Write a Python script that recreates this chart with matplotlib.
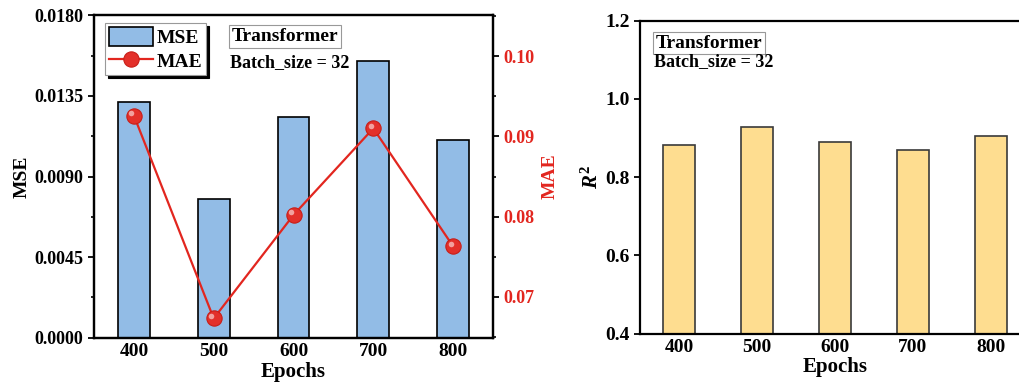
import numpy as np
import matplotlib.pyplot as plt
from matplotlib.ticker import MultipleLocator, AutoMinorLocator
from matplotlib.transforms import ScaledTranslation

plt.rcParams['font.family'] = ['Liberation Serif', 'DejaVu Serif']
plt.rcParams['font.weight'] = 'bold'
plt.rcParams['mathtext.fontset'] = 'custom'
plt.rcParams['mathtext.it'] = 'Liberation Serif:italic:bold'
plt.rcParams['mathtext.rm'] = 'Liberation Serif:bold'

epochs = ['400', '500', '600', '700', '800']
mse = [0.01318, 0.00773, 0.01230, 0.01547, 0.01102]
mae = [0.0926, 0.0673, 0.0802, 0.0910, 0.0763]
r2 = [0.882, 0.928, 0.890, 0.870, 0.905]

x = np.arange(len(epochs))

fig = plt.figure(figsize=(10.2, 3.82), dpi=100)
W, H = 1020, 382

# ---- left: MSE bars + MAE line
ax1 = fig.add_axes([94 / W, 1 - 337.7 / H, 399 / W, 322.4 / H])
bars = ax1.bar(x, mse, width=0.4, color='#92BCE6', edgecolor='black', linewidth=1.2,
               label='MSE', zorder=2)
ax1.set_xlim(-0.5, 4.5)
ax1.set_ylim(0, 0.018)
ax1.yaxis.set_major_locator(MultipleLocator(0.0045))
ax1.yaxis.set_minor_locator(AutoMinorLocator(2))
ax1.set_yticks([0, 0.0045, 0.009, 0.0135, 0.018])
ax1.set_yticklabels(['0.0000', '0.0045', '0.0090', '0.0135', '0.0180'])
ax1.set_xticks(x)
ax1.set_xticklabels(epochs)
ax1.tick_params(axis='x', length=0, labelsize=14, pad=4)
ax1.tick_params(axis='y', which='major', direction='out', length=4, width=1.3, labelsize=13)
ax1.tick_params(axis='y', which='minor', direction='out', length=2.5, width=1.2)
ax1.set_xlabel('Epochs', fontsize=15, fontweight='bold', labelpad=1)
ax1.set_ylabel('MSE', fontsize=14, fontweight='bold', labelpad=3)
for s in ax1.spines.values():
    s.set_linewidth(1.6)

ax2 = ax1.twinx()
red = '#E2261F'
line, = ax2.plot(x, mae, '-', color=red, lw=1.6, marker='o', ms=11,
                 mfc='#E3302A', mec='#C81E18', mew=0.8, label='MAE', zorder=3)
hl = ax2.transData + ScaledTranslation(-1.8 / 72, 1.8 / 72, fig.dpi_scale_trans)
ax2.plot(x, mae, 'o', ms=4, color='white', alpha=0.55, mew=0, transform=hl, zorder=4)
ax2.set_ylim(0.0649, 0.1051)
ax2.set_yticks([0.07, 0.08, 0.09, 0.10])
ax2.set_yticklabels(['0.07', '0.08', '0.09', '0.10'])
ax2.yaxis.set_minor_locator(AutoMinorLocator(2))
ax2.tick_params(axis='y', which='major', direction='out', length=4, width=1.3,
                labelsize=13, colors='black')
ax2.tick_params(axis='y', which='minor', direction='out', length=2.5, width=1.2)
for lab in ax2.get_yticklabels():
    lab.set_color(red)
ax2.set_ylabel('MAE', fontsize=14, fontweight='bold', color=red, labelpad=5)
for s in ax2.spines.values():
    s.set_linewidth(1.6)

leg = ax1.legend([bars, line], ['MSE', 'MAE'], loc='upper left',
                 bbox_to_anchor=(0.027, 0.975), fontsize=14, frameon=True,
                 fancybox=False, shadow={'color': 'black', 'alpha': 1},
                 edgecolor='#999999', handlelength=2.3, handleheight=1.1,
                 borderpad=0.2, labelspacing=0.2, handletextpad=0.15,
                 borderaxespad=0)
leg.get_frame().set_linewidth(0.8)
leg.set_zorder(10)

ax1.text(0.345, 0.935, 'Transformer', transform=ax1.transAxes, fontsize=14,
         fontweight='bold', ha='left', va='center', zorder=10,
         bbox=dict(boxstyle='square,pad=0.15', fc='white', ec='#999999', lw=0.8))
ax1.text(0.34, 0.853, 'Batch_size = 32', transform=ax1.transAxes, fontsize=13,
         fontweight='bold', ha='left', va='center', zorder=10)

# ---- right: R2 bars
ax3 = fig.add_axes([640 / W, 1 - 333.5 / H, 390 / W, 313 / H])
ax3.bar(x, r2, width=0.4, color='#FEDD90', edgecolor='#3A3A3A', linewidth=1.2, zorder=2)
ax3.set_xlim(-0.5, 4.5)
ax3.set_ylim(0.4, 1.2)
ax3.set_yticks([0.4, 0.6, 0.8, 1.0, 1.2])
ax3.set_xticks(x)
ax3.set_xticklabels(epochs)
ax3.tick_params(axis='x', length=0, labelsize=14, pad=4)
ax3.tick_params(axis='y', direction='out', length=4, width=1.3, labelsize=14)
ax3.set_xlabel('Epochs', fontsize=15, fontweight='bold', labelpad=1)
ax3.set_ylabel('$\\mathit{R}^{2}$', fontsize=15, labelpad=2)
for s in ax3.spines.values():
    s.set_linewidth(1.6)

ax3.text(0.04, 0.928, 'Transformer', transform=ax3.transAxes, fontsize=14,
         fontweight='bold', ha='left', va='center',
         bbox=dict(boxstyle='square,pad=0.15', fc='white', ec='#999999', lw=0.8))
ax3.text(0.035, 0.869, 'Batch_size = 32', transform=ax3.transAxes, fontsize=13,
         fontweight='bold', ha='left', va='center')

fig.savefig('out.png', dpi=100)
